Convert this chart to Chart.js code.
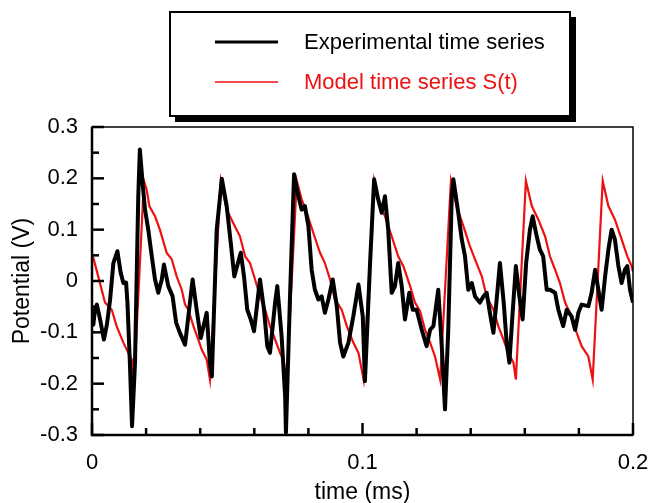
<!DOCTYPE html>
<html>
<head>
<meta charset="utf-8">
<script src="https://cdn.jsdelivr.net/npm/chart.js@4"></script>
<style>
  html, body { margin: 0; padding: 0; background: #fff; }
  #wrap { width: 652px; height: 503px; }
</style>
</head>
<body>
<div id="wrap"><canvas id="chart" width="652" height="503"></canvas></div>
<script>
// Experimental time series (time in ms, potential in V)
const expT = [0, 0.0005, 0.0011, 0.0018, 0.0030, 0.0044, 0.0055, 0.0067, 0.0079, 0.0094,
  0.0106, 0.0116, 0.0126, 0.0131, 0.0140, 0.0148, 0.0159, 0.0171, 0.0177, 0.0187,
  0.0196, 0.0208, 0.0221, 0.0233, 0.0245, 0.0258, 0.0266, 0.0282, 0.0298, 0.0311,
  0.0325, 0.0344, 0.0372, 0.0387, 0.0402, 0.0424, 0.0436, 0.0443, 0.0461, 0.0480,
  0.0498, 0.0513, 0.0526, 0.0550, 0.0562, 0.0574, 0.0587, 0.0599, 0.0621, 0.0636,
  0.0648, 0.0658, 0.0677, 0.0685, 0.0701, 0.0714, 0.0717, 0.0732, 0.0747, 0.0763,
  0.0775, 0.0787, 0.0800, 0.0812, 0.0824, 0.0837, 0.0849, 0.0861, 0.0874, 0.0890,
  0.0905, 0.0917, 0.0929, 0.0948, 0.0966, 0.0985, 0.1001, 0.1009, 0.1028, 0.1043,
  0.1058, 0.1071, 0.1083, 0.1095, 0.1108, 0.1120, 0.1132, 0.1145, 0.1157, 0.1173,
  0.1186, 0.1200, 0.1219, 0.1237, 0.1250, 0.1262, 0.1280, 0.1293, 0.1305, 0.1317,
  0.1330, 0.1336, 0.1354, 0.1367, 0.1379, 0.1391, 0.1404, 0.1416, 0.1434, 0.1447,
  0.1459, 0.1471, 0.1484, 0.1496, 0.1508, 0.1522, 0.1533, 0.1543, 0.1555, 0.1567,
  0.1580, 0.1592, 0.1605, 0.1619, 0.1629, 0.1644, 0.1656, 0.1668, 0.1681, 0.1693,
  0.1712, 0.1724, 0.1742, 0.1755, 0.1773, 0.1786, 0.1798, 0.1810, 0.1835, 0.1847,
  0.1860, 0.1872, 0.1884, 0.1897, 0.1909, 0.1921, 0.1933, 0.1946, 0.1958, 0.1970,
  0.1979, 0.1989, 0.2000];
const expV = [-0.071, -0.085, -0.056, -0.046, -0.075, -0.114, -0.085, -0.036, 0.035, 0.058,
  0.016, -0.004, -0.003, -0.042, -0.159, -0.283, -0.159, 0.165, 0.256, 0.191,
  0.139, 0.100, 0.048, 0.003, -0.023, 0.003, 0.032, -0.010, -0.030, -0.081,
  -0.101, -0.124, 0.003, -0.056, -0.111, -0.062, -0.159, -0.186, 0.100, 0.199,
  0.146, 0.074, 0.009, 0.055, 0.009, -0.056, -0.075, -0.098, 0.003, -0.056,
  -0.127, -0.140, -0.042, -0.010, -0.108, -0.225, -0.295, -0.030, 0.208, 0.165,
  0.139, 0.146, 0.107, 0.022, -0.017, -0.036, -0.030, -0.062, -0.036, 0.003,
  -0.049, -0.120, -0.147, -0.120, -0.069, -0.007, -0.069, -0.195, 0.035, 0.198,
  0.159, 0.133, 0.165, 0.100, -0.023, -0.010, 0.035, -0.010, -0.075, -0.023,
  -0.056, -0.056, -0.095, -0.127, -0.095, -0.088, -0.017, -0.127, -0.250, -0.095,
  0.165, 0.198, 0.133, 0.081, 0.048, -0.017, -0.004, -0.030, -0.042, -0.030,
  -0.023, -0.062, -0.101, -0.036, 0.035, -0.042, -0.120, -0.159, -0.062, 0.029,
  -0.030, -0.075, 0.035, 0.100, 0.126, 0.087, 0.061, 0.048, -0.017, -0.017,
  -0.023, -0.056, -0.088, -0.056, -0.069, -0.095, -0.062, -0.046, -0.049, -0.023,
  0.022, -0.017, -0.056, 0.009, 0.061, 0.100, 0.081, 0.029, -0.004, 0.022,
  0.029, -0.017, -0.042];

// Model time series S(t)
const modT = [0, 0.0005, 0.0023, 0.0048, 0.0073, 0.0091, 0.0116, 0.0134, 0.0147, 0.0156,
  0.0192, 0.0202, 0.0212, 0.0233, 0.0251, 0.0276, 0.0295, 0.0313, 0.0332, 0.0344,
  0.0356, 0.0375, 0.0393, 0.0406, 0.0424, 0.0436,
  0.0476, 0.0498, 0.0522, 0.0547, 0.0566, 0.0584, 0.0603, 0.0621, 0.0640, 0.0658,
  0.0677, 0.0695, 0.0707, 0.0720,
  0.0757, 0.0775, 0.0794, 0.0818, 0.0843, 0.0861, 0.0880, 0.0898, 0.0923, 0.0942,
  0.0966, 0.0985, 0.1004,
  0.1043, 0.1058, 0.1083, 0.1108, 0.1132, 0.1151, 0.1176, 0.1194, 0.1213, 0.1231,
  0.1250, 0.1268, 0.1287,
  0.1327, 0.1348, 0.1373, 0.1397, 0.1416, 0.1441, 0.1459, 0.1484, 0.1502, 0.1521,
  0.1539, 0.1558, 0.1567,
  0.1604, 0.1626, 0.1650, 0.1675, 0.1693, 0.1712, 0.1730, 0.1749, 0.1773, 0.1792,
  0.1810, 0.1835, 0.1851,
  0.1888, 0.1909, 0.1933, 0.1958, 0.1979, 0.1995, 0.2000];
const modV = [0.048, 0.045, 0.009, -0.042, -0.056, -0.088, -0.120, -0.140, -0.153, -0.192,
  0.195, 0.178, 0.146, 0.126, 0.100, 0.055, 0.042, 0.009, -0.017, -0.046,
  -0.056, -0.088, -0.114, -0.134, -0.153, -0.192,
  0.195, 0.139, 0.113, 0.087, 0.048, 0.035, 0.003, -0.030, -0.056, -0.088,
  -0.114, -0.140, -0.153, -0.190,
  0.195, 0.159, 0.133, 0.094, 0.055, 0.035, 0.003, -0.036, -0.056, -0.088,
  -0.120, -0.140, -0.192,
  0.195, 0.159, 0.126, 0.087, 0.048, 0.029, -0.010, -0.042, -0.059, -0.095,
  -0.120, -0.147, -0.192,
  0.195, 0.146, 0.107, 0.068, 0.042, 0.009, -0.030, -0.056, -0.088, -0.114,
  -0.140, -0.159, -0.192,
  0.195, 0.146, 0.120, 0.087, 0.048, 0.022, -0.004, -0.042, -0.069, -0.101,
  -0.127, -0.147, -0.192,
  0.195, 0.146, 0.120, 0.081, 0.048, 0.029, 0.018];

const FONT = "'Liberation Sans', Arial, Helvetica, sans-serif";
const RED = '#ee1111';

const isMajor = (v, step) => Math.abs(v / step - Math.round(v / step)) < 1e-6;

// box round the plot with inward tick marks
const frame = {
  id: 'frame',
  afterDatasetsDraw(chart) {
    const { ctx, chartArea: a, scales } = chart;
    ctx.save();
    ctx.strokeStyle = '#000';
    ctx.lineWidth = 1.5;
    ctx.strokeRect(a.left, a.top, a.right - a.left, a.bottom - a.top);
    ctx.lineWidth = 2.5;
    ctx.beginPath();
    ctx.moveTo(a.left, a.top); ctx.lineTo(a.left, a.bottom); ctx.lineTo(a.right, a.bottom);
    ctx.stroke();
    scales.y.ticks.forEach(t => {
      const y = scales.y.getPixelForValue(t.value);
      const len = isMajor(t.value, 0.1) ? 12 : 7;
      ctx.beginPath(); ctx.moveTo(a.left, y); ctx.lineTo(a.left + len, y); ctx.stroke();
    });
    scales.x.ticks.forEach(t => {
      const x = scales.x.getPixelForValue(t.value);
      const len = isMajor(t.value, 0.1) ? 12 : 7;
      ctx.beginPath(); ctx.moveTo(x, a.bottom); ctx.lineTo(x, a.bottom - len); ctx.stroke();
    });
    ctx.restore();
  }
};

// framed legend with drop shadow above the plot
const legendBox = {
  id: 'legendBox',
  afterDraw(chart) {
    const ctx = chart.ctx;
    ctx.save();
    ctx.fillStyle = '#000';
    ctx.fillRect(175, 17, 401, 105);
    ctx.fillStyle = '#fff';
    ctx.fillRect(170, 12, 400, 104);
    ctx.strokeStyle = '#000';
    ctx.lineWidth = 2;
    ctx.strokeRect(170, 12, 400, 104);
    ctx.font = '22px ' + FONT;
    ctx.textBaseline = 'middle';
    chart.data.datasets.forEach((ds, i) => {
      const y = 42 + 40 * i;
      ctx.strokeStyle = ds.borderColor;
      ctx.lineWidth = i === 0 ? 3 : 1.5;
      ctx.beginPath(); ctx.moveTo(215, y); ctx.lineTo(278, y); ctx.stroke();
      ctx.fillStyle = ds.borderColor;
      ctx.fillText(ds.label, 304, y + 1);
    });
    ctx.restore();
  }
};

new Chart(document.getElementById('chart').getContext('2d'), {
  type: 'line',
  data: {
    datasets: [
      { label: 'Experimental time series', data: expT.map((t, i) => ({ x: t, y: expV[i] })),
        borderColor: '#000', borderWidth: 4, pointRadius: 0, tension: 0, borderJoinStyle: 'round' },
      { label: 'Model time series S(t)', data: modT.map((t, i) => ({ x: t, y: modV[i] })),
        borderColor: RED, borderWidth: 2.2, pointRadius: 0, tension: 0 }
    ]
  },
  options: {
    responsive: false,
    animation: false,
    devicePixelRatio: 1,
    layout: { padding: { top: 127, right: 19, left: 0, bottom: 0 } },
    plugins: { legend: { display: false }, tooltip: { enabled: false } },
    scales: {
      x: {
        type: 'linear', min: 0, max: 0.2,
        grid: { display: false, drawTicks: false }, border: { display: false },
        afterFit: s => { s.height = 68; s.paddingLeft = 0; s.paddingRight = 0; },
        ticks: { stepSize: 0.02, autoSkip: false, maxRotation: 0, padding: 15, color: '#000',
          font: { family: FONT, size: 22 },
          callback: v => isMajor(v, 0.1) ? String(Math.round(v * 10) / 10) : '' },
        title: { display: true, text: 'time (ms)', color: '#000', padding: 0,
          font: { family: FONT, size: 23, lineHeight: 0.9 } }
      },
      y: {
        min: -0.3, max: 0.3,
        grid: { display: false, drawTicks: false }, border: { display: false },
        afterFit: s => { s.width = 92; },
        ticks: { stepSize: 0.05, autoSkip: false, padding: 14, color: '#000',
          font: { family: FONT, size: 22 },
          callback: v => isMajor(v, 0.1) ? String(Math.round(v * 10) / 10) : '' },
        title: { display: true, text: 'Potential (V)', color: '#000', padding: { top: 11, bottom: 0 },
          font: { family: FONT, size: 23, lineHeight: 1 } }
      }
    }
  },
  plugins: [frame, legendBox]
});
</script>
</body>
</html>
